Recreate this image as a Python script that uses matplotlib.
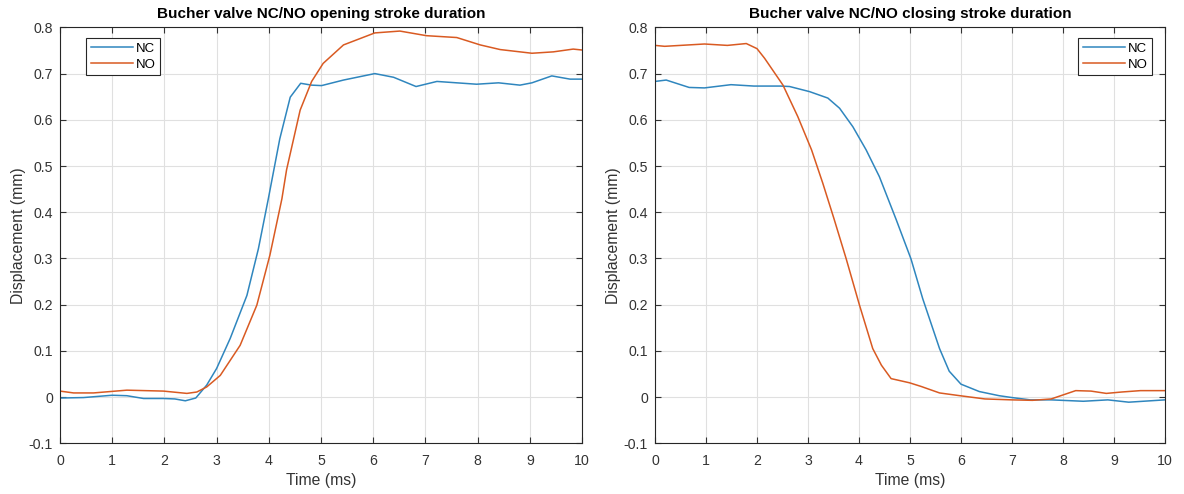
import matplotlib
matplotlib.use("Agg")
import matplotlib.pyplot as plt

# Opening stroke (left panel)
open_nc_t = [0.0, 0.45, 1.0, 1.28, 1.6, 1.98, 2.2, 2.4, 2.6, 2.81, 3.0, 3.26, 3.58, 3.8, 3.99,
             4.21, 4.41, 4.61, 4.82, 5.01, 5.43, 6.03, 6.39, 6.82, 7.22, 7.6, 7.98, 8.4,
             8.81, 9.04, 9.42, 9.77, 10.0]
open_nc_v = [-0.002, -0.001, 0.004, 0.003, -0.003, -0.003, -0.004, -0.008, -0.002, 0.026, 0.062,
             0.127, 0.220, 0.321, 0.429, 0.559, 0.649, 0.679, 0.675, 0.674, 0.686, 0.700, 0.692,
             0.672, 0.683, 0.680, 0.677, 0.680, 0.675, 0.680, 0.695, 0.688, 0.688]

open_no_t = [0.0, 0.26, 0.64, 1.28, 1.98, 2.43, 2.62, 2.81, 3.07, 3.45, 3.77, 4.02, 4.25, 4.34,
             4.6, 4.82, 5.04, 5.43, 6.03, 6.51, 7.02, 7.6, 8.05, 8.43, 9.04, 9.45, 9.83, 10.0]
open_no_v = [0.013, 0.009, 0.009, 0.015, 0.013, 0.008, 0.011, 0.022, 0.047, 0.112, 0.199, 0.307,
             0.429, 0.492, 0.621, 0.683, 0.722, 0.762, 0.788, 0.792, 0.782, 0.778, 0.762, 0.752,
             0.744, 0.747, 0.753, 0.751]

# Closing stroke (right panel)
close_nc_t = [0.0, 0.22, 0.67, 0.97, 1.49, 1.94, 2.46, 2.64, 3.03, 3.39, 3.62, 3.88, 4.14, 4.4,
              4.73, 5.02, 5.25, 5.58, 5.77, 6.0, 6.36, 6.75, 7.0, 7.36, 7.77, 8.4, 8.88, 9.29, 10.0]
close_nc_v = [0.683, 0.686, 0.670, 0.669, 0.676, 0.673, 0.673, 0.672, 0.661, 0.647, 0.625, 0.585,
              0.535, 0.477, 0.384, 0.299, 0.213, 0.105, 0.056, 0.028, 0.012, 0.003, -0.001,
              -0.006, -0.006, -0.009, -0.006, -0.011, -0.006]

close_no_t = [0.0, 0.19, 0.97, 1.42, 1.79, 2.0, 2.15, 2.51, 2.8, 3.07, 3.29, 3.51, 3.75, 4.01,
              4.27, 4.44, 4.63, 4.99, 5.22, 5.58, 5.98, 6.47, 7.0, 7.4, 7.77, 8.25, 8.55, 8.85,
              9.15, 9.52, 10.0]
close_no_v = [0.761, 0.759, 0.764, 0.761, 0.765, 0.754, 0.733, 0.675, 0.607, 0.535, 0.463, 0.386,
              0.299, 0.199, 0.105, 0.069, 0.040, 0.031, 0.023, 0.009, 0.003, -0.004, -0.006,
              -0.007, -0.004, 0.014, 0.013, 0.008, 0.011, 0.014, 0.014]

x_ticks = list(range(0, 11))
y_ticks = [-0.1, 0.0, 0.1, 0.2, 0.3, 0.4, 0.5, 0.6, 0.7, 0.8]
y_labels = ["-0.1", "0", "0.1", "0.2", "0.3", "0.4", "0.5", "0.6", "0.7", "0.8"]

NC_COLOR = "#2f86be"
NO_COLOR = "#d95a22"
TEXT = "#333333"

plt.rcParams["font.family"] = ["Liberation Sans", "DejaVu Sans"]
plt.rcParams["axes.unicode_minus"] = False

fig = plt.figure(figsize=(11.84, 4.94), dpi=100)
ax_open = fig.add_axes([0.0507, 0.1026, 0.4409, 0.842])
ax_close = fig.add_axes([0.5532, 0.1026, 0.4307, 0.842])


def style_axes(ax, title, legend_anchor, legend_loc):
    ax.set_xlim(0, 10)
    ax.set_ylim(-0.1, 0.8)
    ax.set_xticks(x_ticks)
    ax.set_yticks(y_ticks)
    ax.set_yticklabels(y_labels)
    ax.tick_params(direction="in", top=True, right=True, length=4, width=0.8,
                   labelsize=10.2, colors=TEXT)
    ax.tick_params(axis="x", pad=8)
    ax.tick_params(axis="y", pad=5)
    ax.grid(True, color="#e0e0e0", linewidth=0.8)
    ax.set_axisbelow(True)
    for spine in ax.spines.values():
        spine.set_color("#262626")
        spine.set_linewidth(0.8)
    ax.set_title(title, fontsize=11, fontweight="bold", color="black", pad=7)
    ax.set_xlabel("Time (ms)", fontsize=11.3, color=TEXT, labelpad=3)
    ax.set_ylabel("Displacement (mm)", fontsize=11.3, color=TEXT, labelpad=2)
    leg = ax.legend(loc=legend_loc, bbox_to_anchor=legend_anchor, fontsize=9.5,
                    fancybox=False, framealpha=1, edgecolor="#262626",
                    handlelength=3.2, handletextpad=0.2, borderpad=0.35,
                    labelspacing=0.3, borderaxespad=0)
    leg.get_frame().set_linewidth(0.8)


ax_open.plot(open_nc_t, open_nc_v, color=NC_COLOR, linewidth=1.1, label="NC")
ax_open.plot(open_no_t, open_no_v, color=NO_COLOR, linewidth=1.1, label="NO")
style_axes(ax_open, "Bucher valve NC/NO opening stroke duration", (0.05, 0.975), "upper left")

ax_close.plot(close_nc_t, close_nc_v, color=NC_COLOR, linewidth=1.1, label="NC")
ax_close.plot(close_no_t, close_no_v, color=NO_COLOR, linewidth=1.1, label="NO")
style_axes(ax_close, "Bucher valve NC/NO closing stroke duration", (0.975, 0.975), "upper right")

fig.savefig("out.png", dpi=100)
